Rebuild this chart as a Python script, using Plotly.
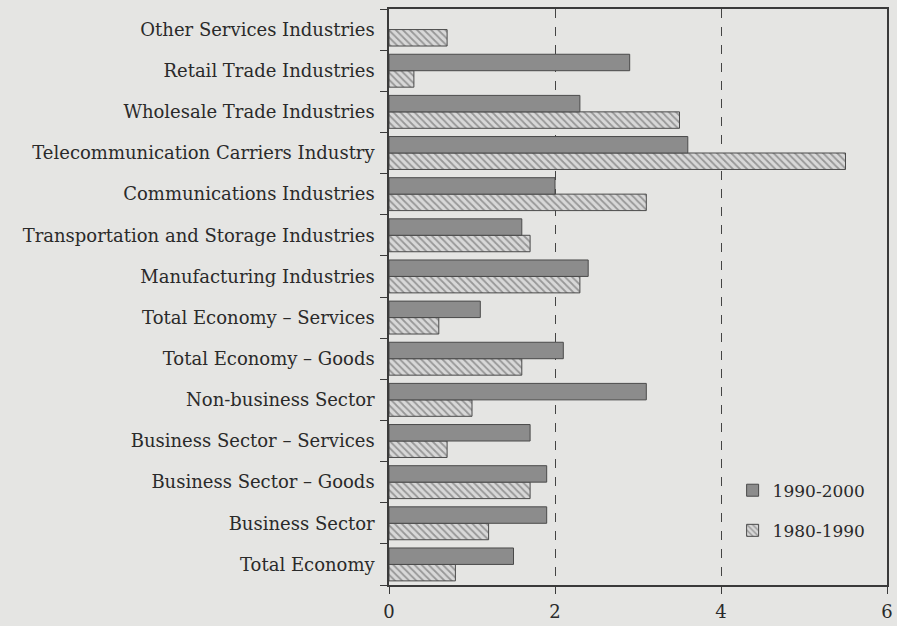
import plotly.graph_objects as go

# Categories listed from bottom to top of the chart
categories = [
    "Total Economy",
    "Business Sector",
    "Business Sector – Goods",
    "Business Sector – Services",
    "Non-business Sector",
    "Total Economy – Goods",
    "Total Economy – Services",
    "Manufacturing Industries",
    "Transportation and Storage Industries",
    "Communications Industries",
    "Telecommunication Carriers Industry",
    "Wholesale Trade Industries",
    "Retail Trade Industries",
    "Other Services Industries",
]
growth_1990_2000 = [1.5, 1.9, 1.9, 1.7, 3.1, 2.1, 1.1, 2.4, 1.6, 2.0, 3.6, 2.3, 2.9, None]
growth_1980_1990 = [0.8, 1.2, 1.7, 0.7, 1.0, 1.6, 0.6, 2.3, 1.7, 3.1, 5.5, 3.5, 0.3, 0.7]
x_ticks = [0, 2, 4, 6]

FONT = "DejaVu Serif, Liberation Serif, serif"
BG = "#e5e5e3"
INK = "#3a3a3a"

fig = go.Figure()
# Hatched series first so it sits below the solid bar in each group
fig.add_trace(go.Bar(
    y=categories, x=growth_1980_1990, orientation="h", name="1980-1990",
    legendgroup="b", legendrank=2,
    marker=dict(
        color="#dcdcdc",
        line=dict(color="#4a4a4a", width=1),
        pattern=dict(shape="\\", fgcolor="#555555", bgcolor="#d8d8d8", size=5, solidity=0.35),
    ),
))
fig.add_trace(go.Bar(
    y=categories, x=growth_1990_2000, orientation="h", name="1990-2000",
    legendgroup="a", legendrank=1,
    marker=dict(color="#8c8c8c", line=dict(color="#4a4a4a", width=1)),
))

fig.update_layout(
    width=897, height=626,
    margin=dict(l=389, r=10, t=9, b=41, autoexpand=False),
    paper_bgcolor=BG, plot_bgcolor=BG,
    barmode="group", bargap=0.2, bargroupgap=0,
    font=dict(family=FONT, size=18, color="#2a2a2a"),
    showlegend=True,
    legend=dict(
        x=0.69, y=0.195, xanchor="left", yanchor="top",
        traceorder="grouped", tracegroupgap=15,
        bgcolor="rgba(0,0,0,0)", font=dict(family=FONT, size=17, color="#2a2a2a"),
        itemwidth=30,
    ),
    xaxis=dict(
        range=[0, 6], tickvals=x_ticks, ticks="outside", ticklen=7,
        tickcolor=INK, showline=True, linecolor=INK, linewidth=1.5, mirror=True,
        showgrid=True, gridcolor="#444444", griddash="dash", gridwidth=1.2,
        zeroline=False, tickfont=dict(size=18), ticklabelstandoff=3,
        automargin=False,
    ),
    yaxis=dict(
        ticks="outside", ticklen=7, tickcolor=INK, tickson="boundaries",
        showline=True, linecolor=INK, linewidth=1.5, mirror=True,
        showgrid=False, tickfont=dict(size=18), ticklabelstandoff=9,
        automargin=False,
    ),
)

fig.write_html("out.html")
